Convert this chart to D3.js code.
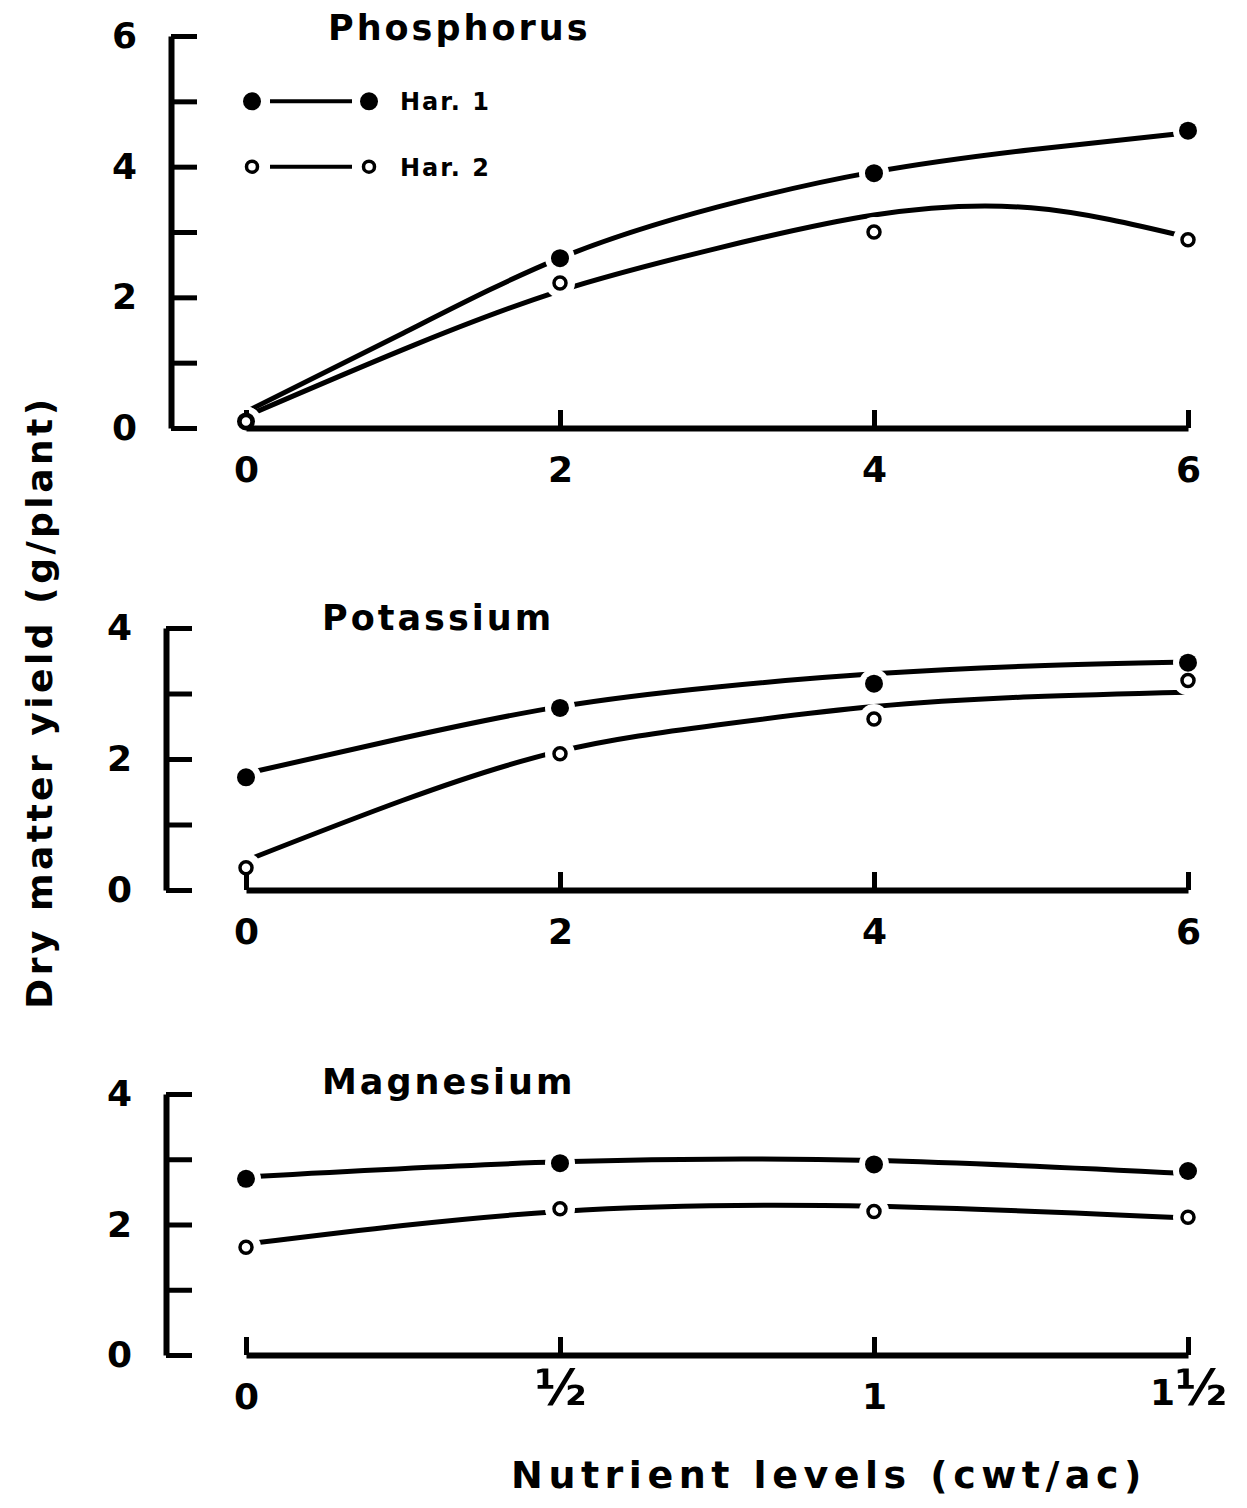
<!DOCTYPE html>
<html>
<head>
<meta charset="utf-8">
<script src="https://cdn.jsdelivr.net/npm/d3@7"></script>
<style>
  body { margin: 0; background: #fff; }
  text { font-family: "DejaVu Sans", sans-serif; font-weight: bold; fill: #000; }
</style>
</head>
<body>
<div id="chart"></div>
<script>
// ---- data ----
const phosLevels = [0, 2, 4, 6];
const phosHar1 = [0.1, 2.6, 3.9, 4.55];
const phosHar2 = [0.1, 2.22, 3.0, 2.88];
// fitted curves
const phosFitX = [0, 1, 2, 3, 4, 5, 6];
const phosFit1 = [0.25, 1.45, 2.6, 3.38, 3.92, 4.26, 4.52];
const phosFit2 = [0.18, 1.2, 2.1, 2.75, 3.26, 3.37, 2.92];

const potLevels = [0, 2, 4, 6];
const potHar1 = [1.72, 2.78, 3.15, 3.47];
const potHar2 = [0.34, 2.08, 2.61, 3.2];
const potFitX = [0, 1, 2, 3, 4, 5, 6];
const potFit1 = [1.78, 2.32, 2.8, 3.1, 3.3, 3.42, 3.48];
const potFit2 = [0.45, 1.37, 2.12, 2.52, 2.8, 2.95, 3.02];

const magLevels = [0, 0.5, 1, 1.5];
const magHar1 = [2.7, 2.94, 2.92, 2.82];
const magHar2 = [1.65, 2.24, 2.2, 2.11];
const magFitX = [0, 0.5, 1, 1.5];
const magFit1 = [2.73, 2.96, 2.98, 2.78];
const magFit2 = [1.7, 2.2, 2.28, 2.1];

const phosTicks = ["0", "2", "4", "6"];
const magTicks = ["0", "\u00BD", "1", "1\u00BD"];

const W = 1247, H = 1508;
const svg = d3.select("#chart").append("svg")
  .attr("width", W).attr("height", H);

const panels = [
  { title: "Phosphorus", titleX: 328, titleY: 40, yAxisX: 171, yTop: 36, yBot: 428, yMax: 6,
    xDomain: [0, 6], levels: phosLevels, h1: phosHar1, h2: phosHar2,
    fitX: phosFitX, f1: phosFit1, f2: phosFit2, xLabels: phosTicks, legend: true },
  { title: "Potassium", titleX: 322, titleY: 630, yAxisX: 166, yTop: 628, yBot: 890, yMax: 4,
    xDomain: [0, 6], levels: potLevels, h1: potHar1, h2: potHar2,
    fitX: potFitX, f1: potFit1, f2: potFit2, xLabels: phosTicks },
  { title: "Magnesium", titleX: 322, titleY: 1094, yAxisX: 166, yTop: 1094, yBot: 1355, yMax: 4,
    xDomain: [0, 1.5], levels: magLevels, h1: magHar1, h2: magHar2,
    fitX: magFitX, f1: magFit1, f2: magFit2, xLabels: magTicks }
];

panels.forEach(p => {
  const x = d3.scaleLinear().domain(p.xDomain).range([246, 1188]);
  const y = d3.scaleLinear().domain([0, p.yMax]).range([p.yBot, p.yTop]);
  const g = svg.append("g");

  const line = d3.line()
    .x(d => x(d[0]))
    .y(d => y(d[1]))
    .curve(d3.curveNatural);

  [p.f1, p.f2].forEach(f => {
    g.append("path")
      .datum(p.fitX.map((v, i) => [v, f[i]]))
      .attr("d", line)
      .attr("fill", "none")
      .attr("stroke", "#000")
      .attr("stroke-width", 5)
      .attr("stroke-linecap", "round");
  });

  // white gaps round the points
  const allPts = p.levels.map((v, i) => [v, p.h1[i]]).concat(p.levels.map((v, i) => [v, p.h2[i]]));
  g.selectAll(".halo").data(allPts).join("circle")
    .attr("cx", d => x(d[0])).attr("cy", d => y(d[1]))
    .attr("r", 15).attr("fill", "#fff");

  // y axis: bracket with ticks pointing inward
  const yAxis = d3.axisLeft(y)
    .tickValues(d3.range(0, p.yMax + 1))
    .tickSizeInner(-26).tickSizeOuter(0).tickPadding(34)
    .tickFormat(d => d % 2 === 0 ? d : "");
  const ya = g.append("g").attr("transform", `translate(${p.yAxisX},0)`).call(yAxis);
  ya.select(".domain").attr("stroke-width", 6);
  ya.selectAll(".tick line").attr("stroke-width", 5);
  ya.selectAll(".tick text").attr("font-size", 36).attr("font-family", "DejaVu Sans").attr("font-weight", "bold");

  // x axis with upward ticks
  const xAxis = d3.axisBottom(x)
    .tickValues(p.levels)
    .tickSizeInner(-18).tickSizeOuter(0).tickPadding(28)
    .tickFormat((d, i) => p.xLabels[i]);
  const xa = g.append("g").attr("transform", `translate(0,${p.yBot})`).call(xAxis);
  xa.select(".domain").attr("stroke-width", 6);
  xa.selectAll(".tick line").attr("stroke-width", 5);
  xa.selectAll(".tick text")
    .attr("font-family", "DejaVu Sans").attr("font-weight", "bold")
    .attr("font-size", 36)
    .each(function(d, i) {
      const label = p.xLabels[i];
      if (!label.includes("\u00BD")) return;
      // larger glyph for the half, whole number stays normal size
      const t = d3.select(this).text("").attr("dy", "0.62em");
      const whole = label.replace("\u00BD", "");
      if (whole) t.append("tspan").attr("font-size", 36).text(whole);
      t.append("tspan").attr("font-size", 50).text("\u00BD");
    });

  // markers
  g.selectAll(".h1").data(p.levels).join("circle")
    .attr("cx", d => x(d)).attr("cy", (d, i) => y(p.h1[i]))
    .attr("r", 9).attr("fill", "#000");
  g.selectAll(".h2").data(p.levels).join("circle")
    .attr("cx", d => x(d)).attr("cy", (d, i) => y(p.h2[i]))
    .attr("r", 6).attr("fill", "#fff").attr("stroke", "#000").attr("stroke-width", 3.5);

  g.append("text")
    .attr("x", p.titleX).attr("y", p.titleY)
    .attr("font-size", 35).attr("letter-spacing", 3)
    .text(p.title);

  if (p.legend) {
    const leg = [{ label: "Har. 1", v: 5, filled: true }, { label: "Har. 2", v: 4, filled: false }];
    leg.forEach(l => {
      const ly = y(l.v);
      g.append("line").attr("x1", 270).attr("x2", 352).attr("y1", ly).attr("y2", ly)
        .attr("stroke", "#000").attr("stroke-width", 4);
      [252, 369].forEach(cx => {
        g.append("circle").attr("cx", cx).attr("cy", ly)
          .attr("r", l.filled ? 9 : 5.5)
          .attr("fill", l.filled ? "#000" : "#fff")
          .attr("stroke", "#000").attr("stroke-width", l.filled ? 0 : 3.5);
      });
      g.append("text").attr("x", 400).attr("y", ly + 9)
        .attr("font-size", 24).attr("letter-spacing", 2).text(l.label);
    });
  }
});

// axis titles
svg.append("text")
  .attr("transform", "translate(52,702) rotate(-90)")
  .attr("text-anchor", "middle")
  .attr("font-size", 36).attr("letter-spacing", 3.5)
  .text("Dry matter yield (g/plant)");

svg.append("text")
  .attr("x", 829).attr("y", 1488)
  .attr("text-anchor", "middle")
  .attr("font-size", 38).attr("letter-spacing", 5.5)
  .text("Nutrient levels (cwt/ac)");
</script>
</body>
</html>
